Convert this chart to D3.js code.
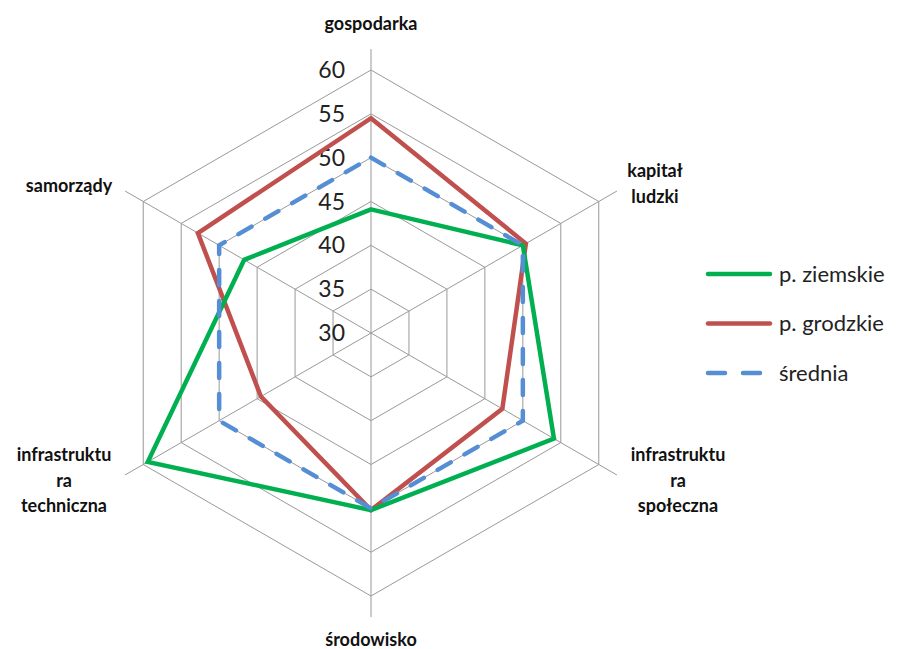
<!DOCTYPE html>
<html>
<head>
<meta charset="utf-8">
<script src="https://cdn.jsdelivr.net/npm/d3@7"></script>
<style>
  body { margin: 0; background: #fff; }
  svg { display: block; font-family: Lato, "Open Sans", sans-serif; }
</style>
</head>
<body>
<div id="chart"></div>
<script>
const categories = ["gospodarka", "kapitał ludzki", "infrastruktura społeczna", "środowisko", "infrastruktura techniczna", "samorządy"];
const categoryLines = [["gospodarka"], ["kapitał", "ludzki"], ["infrastruktu", "ra", "społeczna"], ["środowisko"], ["infrastruktu", "ra", "techniczna"], ["samorządy"]];
const seriesNames = ["p. ziemskie", "p. grodzkie", "średnia"];
const ziemskie = [44.1, 50.0, 54.1, 50.2, 59.4, 46.7];
const grodzkie = [54.5, 50.4, 47.3, 50.2, 44.5, 52.8];
const srednia = [50, 50, 50, 50, 50, 50];
const ticks = [30, 35, 40, 45, 50, 55, 60];

const width = 905, height = 649;
const cx = 371, cy = 333, R = 263, axisExt = 284;
const colors = ["#00b050", "#c0504d", "#558ed5"];

const svg = d3.select("#chart").append("svg")
  .attr("width", width).attr("height", height);

const r = d3.scaleLinear().domain([30, 60]).range([0, R]);
const angle = d3.scaleLinear().domain([0, categories.length]).range([0, 2 * Math.PI]);
const pt = (i, v) => [cx + r(v) * Math.sin(angle(i)), cy - r(v) * Math.cos(angle(i))];

const g = svg.append("g");

// rings
ticks.slice(1).forEach(t => {
  g.append("path")
    .attr("d", d3.line()(categories.map((c, i) => pt(i, t))) + "Z")
    .attr("fill", "none").attr("stroke", "#999").attr("stroke-width", 1);
});

// spokes
categories.forEach((c, i) => {
  g.append("line")
    .attr("x1", cx).attr("y1", cy)
    .attr("x2", cx + axisExt * Math.sin(angle(i)))
    .attr("y2", cy - axisExt * Math.cos(angle(i)))
    .attr("stroke", "#999").attr("stroke-width", 1);
});

// tick labels
g.selectAll(".tick").data(ticks).enter().append("text")
  .attr("x", cx - 26).attr("y", d => cy - r(d))
  .attr("dy", "0.35em").attr("text-anchor", "end")
  .attr("font-size", 23).attr("fill", "#222")
  .text(d => d);

// category labels
const labelPos = [[371, 30], [655, 177], [678, 461], [371, 646], [64, 461], [69, 192]];
categoryLines.forEach((lines, i) => {
  const t = g.append("text")
    .attr("text-anchor", "middle")
    .attr("font-size", 18).attr("font-weight", 700).attr("fill", "#111");
  lines.forEach((l, j) => {
    t.append("tspan").attr("x", labelPos[i][0]).attr("y", labelPos[i][1] + j * 25.5).text(l);
  });
});

// series
const series = [ziemskie, grodzkie, srednia];
const lineGen = d3.line().curve(d3.curveLinearClosed);
[1, 0, 2].forEach(k => {
  g.append("path")
    .attr("d", lineGen(series[k].map((v, i) => pt(i, v))))
    .attr("fill", "none")
    .attr("stroke", colors[k])
    .attr("stroke-width", 4.5)
    .attr("stroke-linejoin", "miter")
    .attr("stroke-linecap", k === 2 ? "round" : "butt")
    .attr("stroke-dasharray", k === 2 ? "15,16" : null);
});

// legend
const legend = svg.append("g");
seriesNames.forEach((n, k) => {
  const y = 274 + k * 49.5;
  legend.append("line")
    .attr("x1", 708).attr("x2", 770).attr("y1", y).attr("y2", y)
    .attr("stroke", colors[k]).attr("stroke-width", 4.5)
    .attr("stroke-linecap", "round")
    .attr("stroke-dasharray", k === 2 ? "17,18" : null);
  legend.append("text")
    .attr("x", 779).attr("y", y).attr("dy", "0.35em")
    .attr("font-size", 22).attr("fill", "#222")
    .text(n);
});
</script>
</body>
</html>
